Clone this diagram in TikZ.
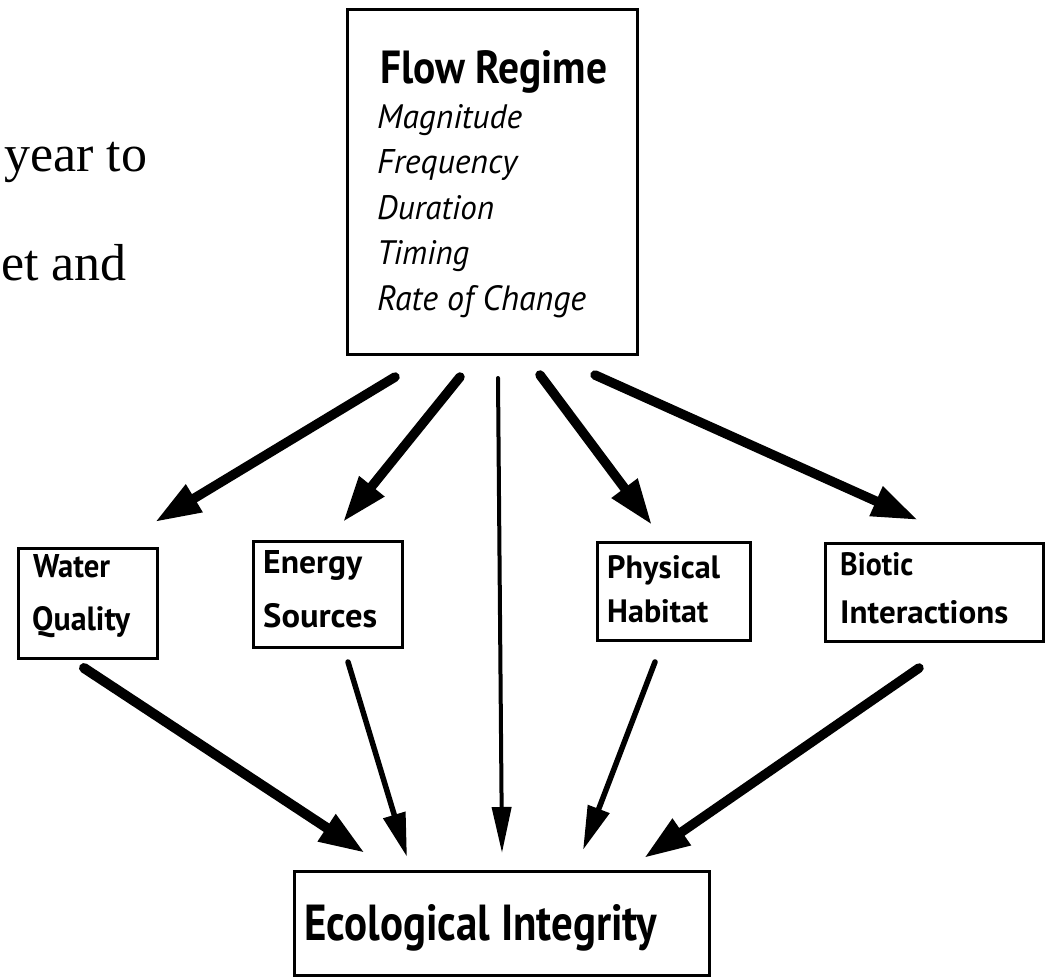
\documentclass[tikz,border=0pt]{standalone}
\usepackage{graphicx}
\usepackage{fontspec}
\setmainfont{Liberation Serif}
\newfontfamily\diafont{PT Sans}
\usetikzlibrary{arrows.meta}
\newcommand{\fitline}[3]{\resizebox{#1pt}{#2pt}{#3}}
\begin{document}
\begin{tikzpicture}[x=1pt,y=-1pt,
  box/.style={draw, line width=3pt, inner sep=0pt, outer sep=0pt, anchor=north west},
  lbl/.style={anchor=base west, inner sep=0pt, font=\diafont\bfseries},
  itl/.style={anchor=base west, inner sep=0pt, font=\diafont\itshape},
  serif/.style={anchor=base west, inner sep=0pt, font=\fontsize{52pt}{60pt}\selectfont},
  thick arrow/.style={line width=9.5pt, line cap=round, -{Triangle[length=46pt,width=30pt]}},
  mid arrow/.style={line width=5.5pt, line cap=round, -{Triangle[length=44pt,width=22pt]}},
  thin arrow/.style={line width=4pt, line cap=round, -{Triangle[length=46pt,width=19pt]}}]
\fill[white] (0,0) rectangle (1053,979);
\useasboundingbox (0,0) rectangle (1053,979);

% background slide text
\node[serif] (yearto) at (4,172) {year to};
\node[serif] (etand) at (1,280) {et and};

% boxes
\node[box, minimum width=290pt, minimum height=344pt] (flow) at (347,10) {};
\node[box, minimum width=139pt, minimum height=110pt] (water) at (18,548) {};
\node[box, minimum width=149pt, minimum height=106pt] (energy) at (253,541) {};
\node[box, minimum width=153pt, minimum height=98pt] (phys) at (597,542) {};
\node[box, minimum width=218pt, minimum height=98pt] (biotic) at (825,543) {};
\node[box, minimum width=415pt, minimum height=104pt] (eco) at (294,871) {};

% texts
\node[lbl] (flowt) at (380,84) {\fitline{227}{33}{Flow Regime}};
\node[itl] (mag) at (377,129) {\fitline{145}{24}{Magnitude}};
\node[itl] (freq) at (377,174) {\fitline{140}{24}{Frequency}};
\node[itl] (dur) at (377,219) {\fitline{117}{24}{Duration}};
\node[itl] (tim) at (377,264) {\fitline{92}{24}{Timing}};
\node[itl] (rate) at (377,310) {\fitline{209}{25}{Rate of Change}};

\node[lbl] (w1) at (33,577) {\fitline{77}{23}{Water}};
\node[lbl] (w2) at (32,630) {\fitline{98}{24}{Quality}};
\node[lbl] (e1) at (263,573) {\fitline{99}{23}{Energy}};
\node[lbl] (e2) at (263,627) {\fitline{114}{24}{Sources}};
\node[lbl] (p1) at (607,578) {\fitline{113}{23}{Physical}};
\node[lbl] (p2) at (607,622) {\fitline{101}{23}{Habitat}};
\node[lbl] (b1) at (840,575) {\fitline{73}{23}{Biotic}};
\node[lbl] (b2) at (840,623) {\fitline{168}{23}{Interactions}};
\node[lbl] (ecot) at (304,940) {\fitline{353}{36}{Ecological Integrity}};

% arrows from flow regime
\draw[thick arrow] ([shift={(48,23)}]flow.south west) -- ([shift={(-2,-26)}]water.north east);
\draw[thick arrow] ([shift={(113,23)}]flow.south west) -- ([shift={(90,-19)}]energy.north west);
\draw[thin arrow] ([shift={(151,24)}]flow.south west) -- ([shift={(208,-18)}]eco.north west);
\draw[thick arrow] ([shift={(193,21)}]flow.south west) -- ([shift={(55,-17)}]phys.north west);
\draw[thick arrow] ([shift={(248,21)}]flow.south west) -- ([shift={(93,-23)}]biotic.north west);

% arrows to ecological integrity
\draw[thick arrow, line width=10pt] ([shift={(66,10)}]water.south west) -- ([shift={(71,-18)}]eco.north west);
\draw[mid arrow] ([shift={(95,15)}]energy.south west) -- ([shift={(113,-14)}]eco.north west);
\draw[mid arrow] ([shift={(58,22)}]phys.south west) -- ([shift={(289,-21)}]eco.north west);
\draw[thick arrow] ([shift={(94,27)}]biotic.south west) -- ([shift={(350,-13)}]eco.north west);
\end{tikzpicture}
\end{document}
